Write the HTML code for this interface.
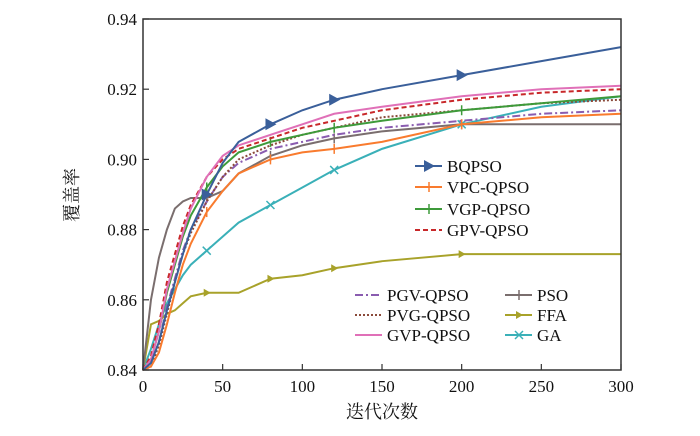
<!DOCTYPE html>
<html><head><meta charset="utf-8"><style>
body{margin:0;background:#fff}
svg text{font-family:"Liberation Serif","Noto Serif CJK SC",serif;fill:#111}
</style></head><body>
<svg id="c" width="700" height="431"></svg>
<script>
const iters=[0,5,10,15,20,25,30,40,50,60,80,100,120,150,200,250,300];
const sBQPSO=[0.84,0.842,0.848,0.857,0.865,0.873,0.880,0.890,0.899,0.905,0.910,0.914,0.917,0.920,0.924,0.928,0.932];
const sVPC=[0.84,0.841,0.845,0.853,0.862,0.870,0.876,0.885,0.891,0.896,0.900,0.902,0.903,0.905,0.910,0.912,0.913];
const sVGP=[0.84,0.843,0.851,0.862,0.870,0.878,0.884,0.892,0.898,0.902,0.905,0.907,0.909,0.911,0.914,0.916,0.918];
const sGPV=[0.84,0.844,0.853,0.865,0.873,0.881,0.887,0.895,0.900,0.903,0.906,0.909,0.911,0.914,0.917,0.919,0.920];
const sPGV=[0.84,0.842,0.848,0.858,0.866,0.874,0.880,0.888,0.895,0.899,0.903,0.905,0.907,0.909,0.911,0.913,0.914];
const sPVG=[0.84,0.841,0.847,0.856,0.865,0.873,0.879,0.888,0.895,0.900,0.904,0.907,0.909,0.912,0.914,0.916,0.917];
const sGVP=[0.84,0.843,0.851,0.863,0.871,0.879,0.886,0.895,0.901,0.904,0.907,0.910,0.913,0.915,0.918,0.920,0.921];
const sPSO=[0.84,0.860,0.872,0.880,0.886,0.888,0.889,0.889,0.891,0.896,0.901,0.904,0.906,0.908,0.910,0.910,0.910];
const sFFA=[0.84,0.853,0.854,0.856,0.857,0.859,0.861,0.862,0.862,0.862,0.866,0.867,0.869,0.871,0.873,0.873,0.873];
const sGA=[0.84,0.846,0.853,0.859,0.863,0.867,0.870,0.874,0.878,0.882,0.887,0.892,0.897,0.903,0.910,0.915,0.918];
const xTicks=[0,50,100,150,200,250,300];
const yTicks=[0.84,0.86,0.88,0.90,0.92,0.94];
const yLabels=["0.84","0.86","0.88","0.90","0.92","0.94"];

const X0=143,X1=621,Y0=370,Y1=19;
const xs=v=>X0+(v/300)*(X1-X0);
const ys=v=>Y0-(v-0.84)/0.10*(Y0-Y1);
const svg=document.getElementById('c');
const NS='http://www.w3.org/2000/svg';
function mk(t,a){const e=document.createElementNS(NS,t);for(const k in a)e.setAttribute(k,a[k]);svg.appendChild(e);return e;}

const series=[
 {n:'GA',d:sGA,c:'#3ab0b8',da:'',m:'x'},
 {n:'FFA',d:sFFA,c:'#a8a22a',da:'',m:'tri'},
 {n:'PSO',d:sPSO,c:'#7a6e6e',da:'',m:'plus'},
 {n:'PGV-QPSO',d:sPGV,c:'#8a5cb0',da:'8,3,2,3',m:''},
 {n:'PVG-QPSO',d:sPVG,c:'#8b4a3a',da:'2,2',m:''},
 {n:'VPC-QPSO',d:sVPC,c:'#f97b2e',da:'',m:'plus'},
 {n:'VGP-QPSO',d:sVGP,c:'#3e9a3a',da:'',m:'plus'},
 {n:'GPV-QPSO',d:sGPV,c:'#c8282a',da:'5,3',m:''},
 {n:'GVP-QPSO',d:sGVP,c:'#e070b8',da:'',m:''},
 {n:'BQPSO',d:sBQPSO,c:'#3a5f9a',da:'',m:'big'}
];
function marker(x,y,s,nm){
 let e;
 if(s.m==='big'){e=mk('path',{d:`M${x-5},${y-6}L${x+6},${y}L${x-5},${y+6}Z`,fill:s.c});}
 else if(s.m==='tri'){e=mk('path',{d:`M${x-3},${y-4}L${x+4},${y}L${x-3},${y+4}Z`,fill:s.c});}
 else if(s.m==='plus'){e=mk('path',{d:`M${x},${y-5}V${y+5}`,stroke:s.c,'stroke-width':1.5});}
 else if(s.m==='x'){e=mk('path',{d:`M${x-4},${y-4}L${x+4},${y+4}M${x+4},${y-4}L${x-4},${y+4}`,stroke:s.c,'stroke-width':1.5});}
 if(e){
 }
}
series.forEach(s=>{
 const p=mk('polyline',{points:iters.map((v,i)=>xs(v)+','+ys(s.d[i])).join(' '),fill:'none',stroke:s.c,'stroke-width':2,'stroke-dasharray':s.da});
 
 
 if(s.m){iters.forEach((v,i)=>{if(v%40===0&&v>0)marker(xs(v),ys(s.d[i]),s,'marker-'+s.n.toLowerCase());});}
});
// frame
const f=mk('rect',{x:X0,y:Y1,width:X1-X0,height:Y0-Y1,fill:'none',stroke:'#333','stroke-width':1.5});


xTicks.forEach(v=>{
 mk('line',{x1:xs(v),x2:xs(v),y1:Y0,y2:Y0-6,stroke:'#333','stroke-width':1.2});
 const t=mk('text',{x:xs(v),y:Y0+22,'text-anchor':'middle','font-size':17});t.textContent=v;
 
 
});
yTicks.forEach((v,i)=>{
 mk('line',{x1:X0,x2:X0+6,y1:ys(v),y2:ys(v),stroke:'#333','stroke-width':1.2});
 const t=mk('text',{x:X0-6,y:ys(v)+6,'text-anchor':'end','font-size':17});t.textContent=yLabels[i];
 
 
});
const xt=mk('text',{x:382,y:418,'text-anchor':'middle','font-size':18});xt.textContent='迭代次数';


const yt=mk('text',{x:0,y:0,'text-anchor':'middle','font-size':18,transform:'translate(78,195) rotate(-90)'});yt.textContent='覆盖率';


// legend
const leg=[['BQPSO',415,166],['VPC-QPSO',415,187],['VGP-QPSO',415,209],['GPV-QPSO',415,230],
 ['PGV-QPSO',355,295],['PVG-QPSO',355,315],['GVP-QPSO',355,335],['PSO',505,295],['FFA',505,315],['GA',505,335]];
leg.forEach(([n,x,y])=>{
 const s=series.find(q=>q.n===n);
 const l=mk('line',{x1:x,x2:x+27,y1:y,y2:y,stroke:s.c,'stroke-width':2,'stroke-dasharray':s.da});
 
 
 if(s.m)marker(x+14,y,s,'legend-marker');
 const t=mk('text',{x:x+32,y:y+6,'font-size':17});t.textContent=n;
 
 
});
</script>
</body></html>
